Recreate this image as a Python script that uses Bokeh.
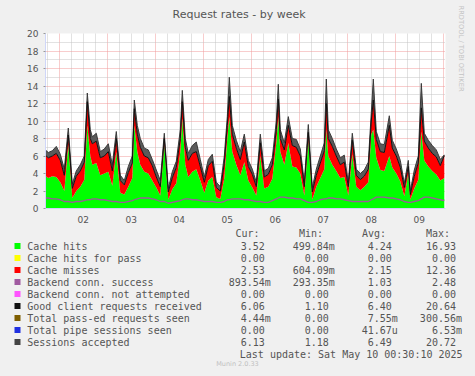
import math
from bokeh.plotting import figure
from bokeh.models import (Range1d, FixedTicker, Grid, LinearAxis, Title,
                          ColumnDataSource)
from bokeh.core.properties import value
from bokeh.embed import file_html
from bokeh.resources import INLINE

# ---- data -------------------------------------------------------------
# time in hours since 2025-05-01 00:00
hours = [16.5, 18.5, 20.5, 22.5, 24.5, 26.5, 28.5, 30.5, 32.5, 34.5, 36.5, 38.0,
         39.5, 40.5, 42.5, 44.5, 46.5, 48.5, 50.5, 52.5, 54.5, 56.5, 58.5, 60.5,
         61.5, 63.0, 64.5, 66.5, 68.5, 70.5, 72.5, 74.5, 76.5, 78.5, 80.5, 82.5,
         84.5, 85.5, 87.0, 88.5, 90.5, 92.5, 94.5, 96.5, 98.5, 100.5, 102.5, 104.5,
         106.5, 108.0, 109.0, 110.5, 112.5, 114.5, 116.5, 118.5, 120.5, 122.5, 124.5,
         126.5, 128.5, 130.5, 132.5, 133.5, 134.5, 136.5, 138.5, 140.5, 142.5, 144.5,
         146.5, 148.5, 150.5, 152.5, 154.5, 156.5, 157.5, 158.5, 160.5, 162.5, 164.5,
         166.5, 168.5, 170.5, 172.5, 174.5, 176.5, 178.5, 180.0, 181.0, 182.5, 184.5,
         186.5, 189.0, 190.5, 192.5, 194.5, 196.5, 198.5, 199.5, 201.5, 203.5, 205.0,
         206.5, 208.5, 210.5, 212.5, 214.5, 216.5]
cache_hits = [3.8, 3.5, 3.7, 3.6, 3.0, 2.0, 7.3, 1.2, 2.0, 2.5, 3.3, 9.5,
              6.0, 5.0, 5.2, 3.8, 4.0, 4.2, 2.6, 6.5, 1.8, 1.6, 2.5, 3.5,
              9.5, 6.5, 5.0, 4.2, 4.0, 3.2, 2.4, 1.5, 7.3, 1.0, 2.2, 2.9,
              6.5, 10.3, 5.0, 3.6, 4.2, 4.5, 3.2, 1.8, 3.2, 3.6, 1.3, 1.1,
              3.5, 8.0, 10.5, 6.5, 5.0, 3.8, 5.3, 3.2, 2.4, 1.5, 6.0,
              2.3, 2.5, 3.4, 7.5, 10.5, 6.5, 5.0, 7.5, 4.8, 4.7, 4.0,
              1.5, 7.8, 1.0, 2.5, 3.5, 4.5, 9.0, 6.0, 5.0, 4.3, 3.5,
              3.6, 1.5, 6.2, 2.5, 2.1, 2.5, 3.0, 8.5, 9.0, 5.8, 4.4,
              4.3, 6.0, 4.7, 4.0, 3.1, 1.4, 4.0, 1.0, 2.3, 3.3, 8.8,
              5.5, 4.8, 4.3, 3.9, 3.2, 3.5]
cache_misses = [2.4, 2.3, 2.3, 2.7, 2.5, 1.8, 1.1, 1.1, 1.7, 1.8, 2.0, 2.7,
                2.0, 2.4, 2.5, 2.0, 2.0, 2.3, 1.7, 1.5, 1.4, 1.1, 1.6, 1.7,
                1.9, 2.0, 2.0, 1.8, 1.8, 1.7, 1.2, 1.0, 0.7, 0.9, 1.3, 1.8,
                1.5, 1.9, 2.0, 1.9, 2.1, 2.0, 1.6, 1.2, 1.7, 1.8, 1.1, 0.9,
                1.7, 1.5, 2.3, 2.0, 1.9, 1.8, 2.3, 1.6, 1.5, 1.0, 1.5,
                1.3, 1.4, 1.6, 1.5, 2.0, 1.5, 1.7, 2.0, 2.4, 2.3, 2.0,
                1.0, 0.9, 0.9, 1.3, 1.7, 2.1, 3.0, 2.0, 2.1, 1.7, 1.5,
                1.7, 1.0, 1.6, 1.3, 1.2, 1.2, 1.5, 1.5, 3.4, 2.1, 2.1,
                2.1, 3.5, 2.2, 2.0, 1.6, 1.0, 0.8, 0.6, 1.4, 1.9, 2.7,
                2.2, 2.1, 2.0, 2.0, 1.7, 2.55]
backend_success = [1.2, 1.2, 1.1, 1.1, 1.0, 0.8, 0.8, 0.7, 0.8, 0.8, 0.9, 1.0,
                   1.0, 1.1, 1.1, 1.0, 1.0, 0.9, 0.8, 0.8, 0.7, 0.7, 0.8, 0.9,
                   1.0, 1.1, 1.2, 1.2, 1.2, 1.1, 1.0, 0.8, 0.8, 0.6, 0.7, 0.8,
                   0.9, 1.0, 1.1, 1.1, 1.0, 1.0, 0.9, 0.8, 0.8, 0.8, 0.7, 0.7,
                   0.8, 1.0, 1.0, 1.1, 1.1, 1.1, 1.0, 1.0, 0.9, 0.8, 0.8,
                   0.7, 0.7, 0.9, 1.1, 1.2, 1.3, 1.3, 1.2, 1.2, 1.1, 1.1,
                   0.9, 0.7, 0.7, 0.8, 1.0, 1.1, 1.1, 1.2, 1.2, 1.1, 1.1,
                   1.0, 0.9, 0.8, 0.8, 0.8, 0.8, 0.8, 1.0, 1.1, 1.3, 1.3,
                   1.3, 1.2, 1.2, 1.1, 1.0, 0.8, 0.7, 0.7, 0.8, 0.9, 1.1,
                   1.3, 1.3, 1.2, 1.1, 1.0, 0.9]
client_requests = [6.2, 5.8, 6.0, 6.3, 5.5, 3.8, 8.4, 2.3, 3.7, 4.3, 5.3, 12.2,
                   8.0, 7.4, 7.7, 5.8, 6.0, 6.5, 4.3, 8.0, 3.2, 2.7, 4.1, 5.2,
                   11.4, 8.5, 7.0, 6.0, 5.8, 4.9, 3.6, 2.5, 8.0, 1.9, 3.5, 4.7,
                   8.0, 12.2, 7.0, 5.5, 6.3, 6.5, 4.8, 3.0, 4.9, 5.4, 2.4, 2.0,
                   5.2, 9.5, 12.8, 8.5, 6.9, 5.6, 7.6, 4.8, 3.9, 2.5, 7.5,
                   3.6, 3.9, 5.0, 9.0, 12.5, 8.0, 6.7, 9.5, 7.2, 7.0, 6.0,
                   2.5, 8.7, 1.9, 3.8, 5.2, 6.6, 12.0, 8.0, 7.1, 6.0, 5.0,
                   5.3, 2.5, 7.8, 3.8, 3.3, 3.7, 4.5, 10.0, 12.4, 7.9, 6.5,
                   6.4, 9.5, 6.9, 6.0, 4.7, 2.4, 4.8, 1.6, 3.7, 5.2, 11.5,
                   7.7, 6.9, 6.3, 5.9, 4.9, 6.05]
sessions_accepted = [6.8, 6.4, 6.6, 7.1, 6.2, 4.5, 9.2, 2.8, 4.3, 5.0, 6.0, 13.2,
                     9.0, 8.2, 8.6, 6.5, 6.8, 7.4, 5.0, 8.8, 3.8, 3.2, 4.8, 6.0,
                     12.4, 9.5, 8.0, 6.9, 6.7, 5.6, 4.4, 3.2, 8.6, 2.3, 4.2, 5.4,
                     9.0, 13.5, 8.0, 6.3, 7.2, 7.6, 5.6, 3.6, 5.6, 6.2, 3.0, 2.5,
                     6.0, 10.5, 15.0, 9.5, 7.8, 6.5, 8.5, 5.5, 4.5, 3.0, 8.5,
                     4.3, 4.6, 5.8, 10.0, 14.2, 9.0, 7.5, 10.5, 8.0, 7.9, 6.8,
                     3.0, 9.6, 2.4, 4.5, 6.0, 7.5, 14.8, 9.0, 8.0, 6.8, 5.8,
                     6.1, 3.0, 8.6, 4.5, 4.0, 4.4, 5.3, 11.0, 14.8, 8.8, 7.4,
                     7.3, 10.6, 7.8, 6.8, 5.5, 2.9, 5.5, 2.0, 4.4, 6.0, 14.3,
                     8.6, 7.8, 7.2, 6.7, 5.6, 6.13]

day_labels = ["02", "03", "04", "05", "06", "07", "08", "09"]
day_noon_hours = [36, 60, 84, 108, 132, 156, 180, 204]
y_ticks = [0, 2, 4, 6, 8, 10, 12, 14, 16, 18, 20]

legend_names = ["Cache hits", "Cache hits for pass", "Cache misses",
                "Backend conn. success", "Backend conn. not attempted",
                "Good client requests received", "Total pass-ed requests seen",
                "Total pipe sessions seen", "Sessions accepted"]
legend_colors = ["#00ff00", "#ffff00", "#ff0000", "#a05aa0", "#ff55ff",
                 "#111111", "#7f5f00", "#2030e0", "#444444"]
column_heads = ["Cur:", "Min:", "Avg:", "Max:"]
cur_vals = ["3.52", "0.00", "2.53", "893.54m", "0.00", "6.06", "4.44m", "0.00", "6.13"]
min_vals = ["499.84m", "0.00", "604.09m", "293.35m", "0.00", "1.10", "0.00", "0.00", "1.18"]
avg_vals = ["4.24", "0.00", "2.15", "1.03", "0.00", "6.40", "7.55m", "41.67u", "6.49"]
max_vals = ["16.93", "0.00", "12.36", "2.48", "0.00", "20.64", "300.56m", "6.53m", "20.72"]
title_text = "Request rates - by week"
side_text = "RRDTOOL / TOBI OETIKER"
last_update = "Last update: Sat May 10 00:30:10 2025"
footer = "Munin 2.0.33"

# ---- chart figure -------------------------------------------------------
BG = "#f0f0f0"
FONT_C = "#555555"
AXIS_C = "#cfd6f8"
W = 475
TOP_H = 226

p = figure(width=W, height=TOP_H, x_range=Range1d(17.1, 217.1), y_range=Range1d(0, 20),
           x_axis_type=None, y_axis_type=None, output_backend="svg",
           toolbar_location=None, background_fill_color="white",
           border_fill_color=BG, outline_line_color=None,
           min_border_left=45, min_border_right=30, min_border_top=33,
           min_border_bottom=TOP_H - 208)

# title: a trailing empty line lifts the text to the reference height
p.title.text = title_text + "\n "
p.title.align = "left"
p.title.offset = 127
p.title.standoff = 0
p.title.text_font = "DejaVu Sans"
p.title.text_font_size = "11px"
p.title.text_font_style = "normal"
p.title.text_color = FONT_C

p.add_layout(Title(text=side_text, align="left", offset=-28, vertical_align="top",
                   text_font="DejaVu Sans", text_font_size="6.7px",
                   text_font_style="normal", text_color="#c4c4c4",
                   standoff=19), "right")

# grids
six_h = [h for h in range(18, 217, 6) if h % 24 != 0]
midnights = [h for h in range(24, 217, 24)]
p.add_layout(Grid(dimension=0, ticker=FixedTicker(ticks=six_h),
                  grid_line_color="#c4c4c4", grid_line_dash="1 1"))
p.add_layout(Grid(dimension=0, ticker=FixedTicker(ticks=midnights),
                  grid_line_color="#f09a9a", grid_line_dash="1 1"))
p.add_layout(Grid(dimension=1, ticker=FixedTicker(ticks=list(range(1, 20, 2))),
                  grid_line_color="#c4c4c4", grid_line_dash="1 1"))
p.add_layout(Grid(dimension=1, ticker=FixedTicker(ticks=y_ticks[1:]),
                  grid_line_color="#f09a9a", grid_line_dash="1 1"))

src = ColumnDataSource(dict(h=hours, hits=cache_hits, misses=cache_misses,
                            backend=backend_success, client=client_requests,
                            sessions=sessions_accepted))
p.varea_stack(["hits", "misses"], x="h", color=["#00ff00", "#ff0000"], source=src)
p.varea(x="h", y1="client", y2="sessions", fill_color="#5a5a5a", source=src)
p.line("h", "sessions", line_color="#3a3a3a", line_width=1, source=src)
p.line("h", "client", line_color="#111111", line_width=1, source=src)
p.line("h", "backend", line_color="#9a5c9a", line_width=1.3, source=src)

# axes
yaxis = LinearAxis(ticker=FixedTicker(ticks=y_ticks, minor_ticks=[]),
                   axis_line_color=AXIS_C, major_tick_line_color="#999999",
                   major_tick_out=2, major_tick_in=0, minor_tick_line_color=None,
                   major_label_standoff=5, major_label_text_font_size="9px",
                   major_label_text_color=FONT_C, major_label_text_font="DejaVu Sans")
p.add_layout(yaxis, "left")
xaxis = LinearAxis(ticker=FixedTicker(ticks=day_noon_hours, minor_ticks=[]),
                   major_label_overrides={h: l for h, l in zip(day_noon_hours, day_labels)},
                   axis_line_color=AXIS_C, major_tick_line_color=None,
                   major_tick_out=0, major_tick_in=0, minor_tick_line_color=None,
                   major_label_standoff=7, major_label_text_font_size="9px",
                   major_label_text_color=FONT_C, major_label_text_font="DejaVu Sans")
p.add_layout(xaxis, "below")

# ---- legend figure (pixel coordinates of the picture) ------------------
BOT_H = 376 - TOP_H
q = figure(width=W, height=BOT_H, x_range=Range1d(0, W), y_range=Range1d(376, TOP_H),
           x_axis_type=None, y_axis_type=None, output_backend="svg",
           toolbar_location=None, background_fill_color=BG, border_fill_color=BG,
           outline_line_color=None, min_border=0)

MONO = value("DejaVu Sans Mono")
row_y = [245.5 + 12 * i for i in range(len(legend_names))]
q.rect(x=[17] * len(row_y), y=row_y, width=6, height=6,
       fill_color=legend_colors, line_color=None)
q.text(x=[26.7] * len(row_y), y=row_y, text=legend_names, text_font=MONO,
       text_font_size="10px", text_color=FONT_C, text_baseline="middle",
       text_align="left")
q.text(x=[235, 298.5, 361.5, 425.5], y=[232.5] * 4, text=column_heads,
       text_font=MONO, text_font_size="10px", text_color=FONT_C,
       text_baseline="middle", text_align="left")

CH = 6.0
col_edges = [270.3, 334.3, 397.3, 461.5]
vx, vy, vt = [], [], []
for col, vals in enumerate([cur_vals, min_vals, avg_vals, max_vals]):
    for i, v in enumerate(vals):
        vx.append(col_edges[col] - (0 if v[-1].isalpha() else CH))
        vy.append(row_y[i])
        vt.append(v)
q.text(x=vx, y=vy, text=vt, text_font=MONO, text_font_size="10px",
       text_color=FONT_C, text_baseline="middle", text_align="right")
q.text(x=[239.3], y=[353.5], text=[last_update], text_font=MONO,
       text_font_size="10px", text_color=FONT_C, text_baseline="middle",
       text_align="left")
q.text(x=[237], y=[363.5], text=[footer], text_font=value("DejaVu Sans"),
       text_font_size="6.5px", text_color="#c0c0c0", text_baseline="middle",
       text_align="center")

html = file_html([p, q], INLINE)
html = html.replace("</head>", "<style>body{background:#f0f0f0;}</style></head>", 1)
open("out.html", "w").write(html)
